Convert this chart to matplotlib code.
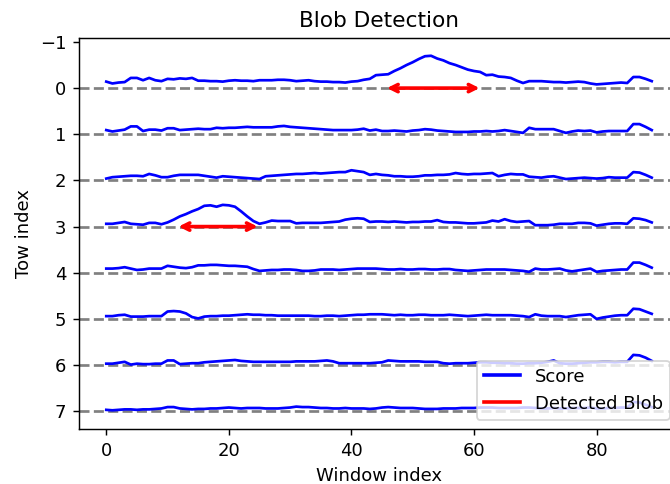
import numpy as np
import matplotlib
matplotlib.use("Agg")
import matplotlib.pyplot as plt
from matplotlib.lines import Line2D

# score per window for each row (8 rows x 90 windows)
row0 = [0.14, 0.10, 0.12, 0.13, 0.22, 0.22, 0.17, 0.22, 0.17, 0.15,
        0.20, 0.19, 0.21, 0.20, 0.22, 0.16, 0.16, 0.15, 0.15, 0.14,
        0.16, 0.17, 0.16, 0.16, 0.15, 0.17, 0.17, 0.17, 0.18, 0.18,
        0.17, 0.15, 0.16, 0.17, 0.15, 0.14, 0.14, 0.13, 0.13, 0.12,
        0.14, 0.15, 0.18, 0.20, 0.28, 0.29, 0.30, 0.37, 0.43, 0.50,
        0.56, 0.63, 0.69, 0.70, 0.64, 0.60, 0.54, 0.50, 0.45, 0.40,
        0.37, 0.35, 0.28, 0.29, 0.25, 0.24, 0.22, 0.16, 0.11, 0.15,
        0.15, 0.15, 0.14, 0.13, 0.13, 0.12, 0.13, 0.14, 0.13, 0.10,
        0.08, 0.09, 0.10, 0.11, 0.12, 0.11, 0.24, 0.24, 0.20, 0.15]
row1 = [0.09, 0.06, 0.08, 0.10, 0.17, 0.17, 0.07, 0.10, 0.10, 0.08,
        0.13, 0.13, 0.09, 0.10, 0.11, 0.12, 0.11, 0.11, 0.14, 0.13,
        0.14, 0.14, 0.15, 0.16, 0.15, 0.15, 0.15, 0.15, 0.17, 0.18,
        0.16, 0.15, 0.14, 0.13, 0.12, 0.11, 0.10, 0.09, 0.09, 0.09,
        0.09, 0.10, 0.12, 0.08, 0.10, 0.07, 0.07, 0.08, 0.07, 0.06,
        0.08, 0.09, 0.11, 0.10, 0.08, 0.07, 0.06, 0.05, 0.05, 0.05,
        0.06, 0.06, 0.07, 0.06, 0.07, 0.09, 0.07, 0.05, 0.03, 0.14,
        0.11, 0.11, 0.11, 0.11, 0.07, 0.03, 0.06, 0.08, 0.07, 0.08,
        0.04, 0.06, 0.07, 0.07, 0.07, 0.07, 0.22, 0.22, 0.16, 0.09]
row2 = [0.04, 0.07, 0.08, 0.09, 0.10, 0.10, 0.09, 0.14, 0.11, 0.07,
        0.07, 0.10, 0.12, 0.12, 0.12, 0.12, 0.10, 0.08, 0.06, 0.09,
        0.08, 0.07, 0.06, 0.05, 0.04, 0.03, 0.09, 0.10, 0.11, 0.12,
        0.13, 0.14, 0.14, 0.15, 0.16, 0.15, 0.16, 0.17, 0.18, 0.18,
        0.22, 0.20, 0.18, 0.12, 0.14, 0.12, 0.11, 0.09, 0.09, 0.08,
        0.08, 0.09, 0.11, 0.11, 0.12, 0.12, 0.13, 0.16, 0.14, 0.13,
        0.14, 0.14, 0.15, 0.16, 0.09, 0.12, 0.14, 0.13, 0.13, 0.08,
        0.07, 0.06, 0.08, 0.09, 0.06, 0.03, 0.04, 0.05, 0.06, 0.05,
        0.04, 0.05, 0.07, 0.06, 0.06, 0.06, 0.18, 0.17, 0.12, 0.06]
row3 = [0.06, 0.06, 0.08, 0.10, 0.06, 0.05, 0.04, 0.08, 0.08, 0.05,
        0.09, 0.15, 0.22, 0.27, 0.33, 0.38, 0.45, 0.46, 0.43, 0.47,
        0.46, 0.43, 0.33, 0.22, 0.12, 0.06, 0.09, 0.13, 0.12, 0.12,
        0.12, 0.07, 0.08, 0.08, 0.08, 0.08, 0.09, 0.10, 0.11, 0.15,
        0.17, 0.18, 0.17, 0.10, 0.11, 0.11, 0.10, 0.11, 0.10, 0.09,
        0.10, 0.10, 0.11, 0.11, 0.14, 0.10, 0.09, 0.09, 0.08, 0.07,
        0.07, 0.08, 0.09, 0.13, 0.11, 0.16, 0.12, 0.10, 0.11, 0.12,
        0.03, 0.03, 0.03, 0.04, 0.06, 0.06, 0.06, 0.08, 0.08, 0.07,
        0.02, 0.04, 0.06, 0.07, 0.07, 0.06, 0.18, 0.17, 0.14, 0.09]
row4 = [0.09, 0.09, 0.10, 0.12, 0.09, 0.06, 0.07, 0.09, 0.09, 0.09,
        0.15, 0.13, 0.11, 0.10, 0.12, 0.16, 0.16, 0.17, 0.17, 0.16,
        0.15, 0.15, 0.14, 0.13, 0.08, 0.04, 0.05, 0.06, 0.06, 0.07,
        0.07, 0.06, 0.04, 0.04, 0.05, 0.07, 0.07, 0.07, 0.06, 0.07,
        0.08, 0.09, 0.09, 0.09, 0.09, 0.08, 0.07, 0.07, 0.08, 0.07,
        0.07, 0.08, 0.08, 0.07, 0.07, 0.08, 0.08, 0.06, 0.05, 0.04,
        0.05, 0.06, 0.07, 0.07, 0.07, 0.07, 0.06, 0.05, 0.04, 0.02,
        0.09, 0.07, 0.07, 0.08, 0.09, 0.05, 0.03, 0.05, 0.07, 0.09,
        0.02, 0.04, 0.05, 0.06, 0.07, 0.07, 0.22, 0.22, 0.17, 0.11]
row5 = [0.06, 0.06, 0.08, 0.09, 0.05, 0.05, 0.05, 0.06, 0.06, 0.06,
        0.16, 0.17, 0.16, 0.12, 0.04, 0.01, 0.05, 0.06, 0.06, 0.07,
        0.07, 0.08, 0.09, 0.10, 0.09, 0.09, 0.08, 0.08, 0.07, 0.07,
        0.07, 0.07, 0.07, 0.07, 0.06, 0.06, 0.07, 0.07, 0.06, 0.07,
        0.08, 0.09, 0.09, 0.10, 0.10, 0.10, 0.09, 0.08, 0.09, 0.08,
        0.08, 0.09, 0.09, 0.08, 0.08, 0.08, 0.09, 0.08, 0.07, 0.06,
        0.07, 0.08, 0.09, 0.08, 0.08, 0.08, 0.08, 0.07, 0.06, 0.04,
        0.10, 0.07, 0.06, 0.06, 0.06, 0.04, 0.06, 0.08, 0.09, 0.10,
        0.00, 0.03, 0.05, 0.07, 0.08, 0.08, 0.22, 0.21, 0.16, 0.11]
row6 = [0.03, 0.03, 0.05, 0.07, 0.01, 0.03, 0.02, 0.02, 0.03, 0.03,
        0.10, 0.10, 0.02, 0.03, 0.04, 0.04, 0.06, 0.07, 0.08, 0.09,
        0.10, 0.11, 0.09, 0.08, 0.07, 0.07, 0.07, 0.07, 0.07, 0.07,
        0.07, 0.08, 0.08, 0.08, 0.08, 0.09, 0.10, 0.08, 0.04, 0.04,
        0.04, 0.04, 0.04, 0.04, 0.05, 0.06, 0.10, 0.09, 0.08, 0.08,
        0.08, 0.08, 0.07, 0.07, 0.07, 0.04, 0.03, 0.04, 0.04, 0.04,
        0.05, 0.06, 0.06, 0.05, 0.05, 0.04, 0.04, 0.03, 0.03, 0.04,
        0.04, 0.05, 0.07, 0.10, 0.04, 0.03, 0.03, 0.04, 0.05, 0.06,
        0.06, 0.07, 0.07, 0.06, 0.07, 0.07, 0.22, 0.21, 0.16, 0.09]
row7 = [0.03, 0.02, 0.03, 0.04, 0.04, 0.03, 0.04, 0.04, 0.05, 0.06,
        0.09, 0.09, 0.06, 0.05, 0.04, 0.05, 0.05, 0.06, 0.06, 0.07,
        0.08, 0.07, 0.06, 0.07, 0.07, 0.07, 0.06, 0.06, 0.06, 0.07,
        0.08, 0.10, 0.09, 0.09, 0.08, 0.07, 0.07, 0.06, 0.06, 0.07,
        0.06, 0.06, 0.06, 0.05, 0.06, 0.08, 0.09, 0.08, 0.07, 0.07,
        0.07, 0.06, 0.05, 0.05, 0.05, 0.06, 0.06, 0.06, 0.07, 0.07,
        0.07, 0.08, 0.08, 0.08, 0.07, 0.07, 0.07, 0.07, 0.08, 0.08,
        0.07, 0.06, 0.06, 0.07, 0.06, 0.06, 0.07, 0.07, 0.07, 0.08,
        0.06, 0.06, 0.07, 0.07, 0.08, 0.08, 0.20, 0.19, 0.14, 0.09]

scores = [row0, row1, row2, row3, row4, row5, row6, row7]

# detected blobs: (row, start window, end window)
blob_rows = [0, 3]
blob_starts = [45.2, 11.2]
blob_ends = [61.5, 25.3]

DPI = 130
fig = plt.figure(figsize=(670 / DPI, 484 / DPI), dpi=DPI)
# axes runs slightly past the right edge, as in the reference crop
ax = fig.add_axes([79 / 670, 1 - 429 / 484, 600 / 670, 391 / 484])

for r, s in enumerate(scores):
    s = np.asarray(s)
    x = np.arange(len(s))
    ax.axhline(r, color='gray', linestyle='--', linewidth=1.5)
    ax.plot(x, r - s, color='blue', linewidth=1.5)

for r, a, b in zip(blob_rows, blob_starts, blob_ends):
    ax.annotate('', xy=(a, r), xytext=(b, r),
                arrowprops=dict(arrowstyle='<->', color='red', lw=2))

ax.set_xlim(-4.45, 93.45)
ax.set_ylim(7.385, -1.085)
ax.set_yticks(range(-1, 8))
ax.set_xticks([0, 20, 40, 60, 80])
ax.set_title("Blob Detection")
ax.set_xlabel("Window index")
ax.set_ylabel("Tow index")

handles = [Line2D([0], [0], color='blue', lw=2),
           Line2D([0], [0], color='red', lw=2)]
ax.legend(handles, ['Score', 'Detected Blob'], loc='lower right')

fig.savefig("out.png", dpi=DPI)
